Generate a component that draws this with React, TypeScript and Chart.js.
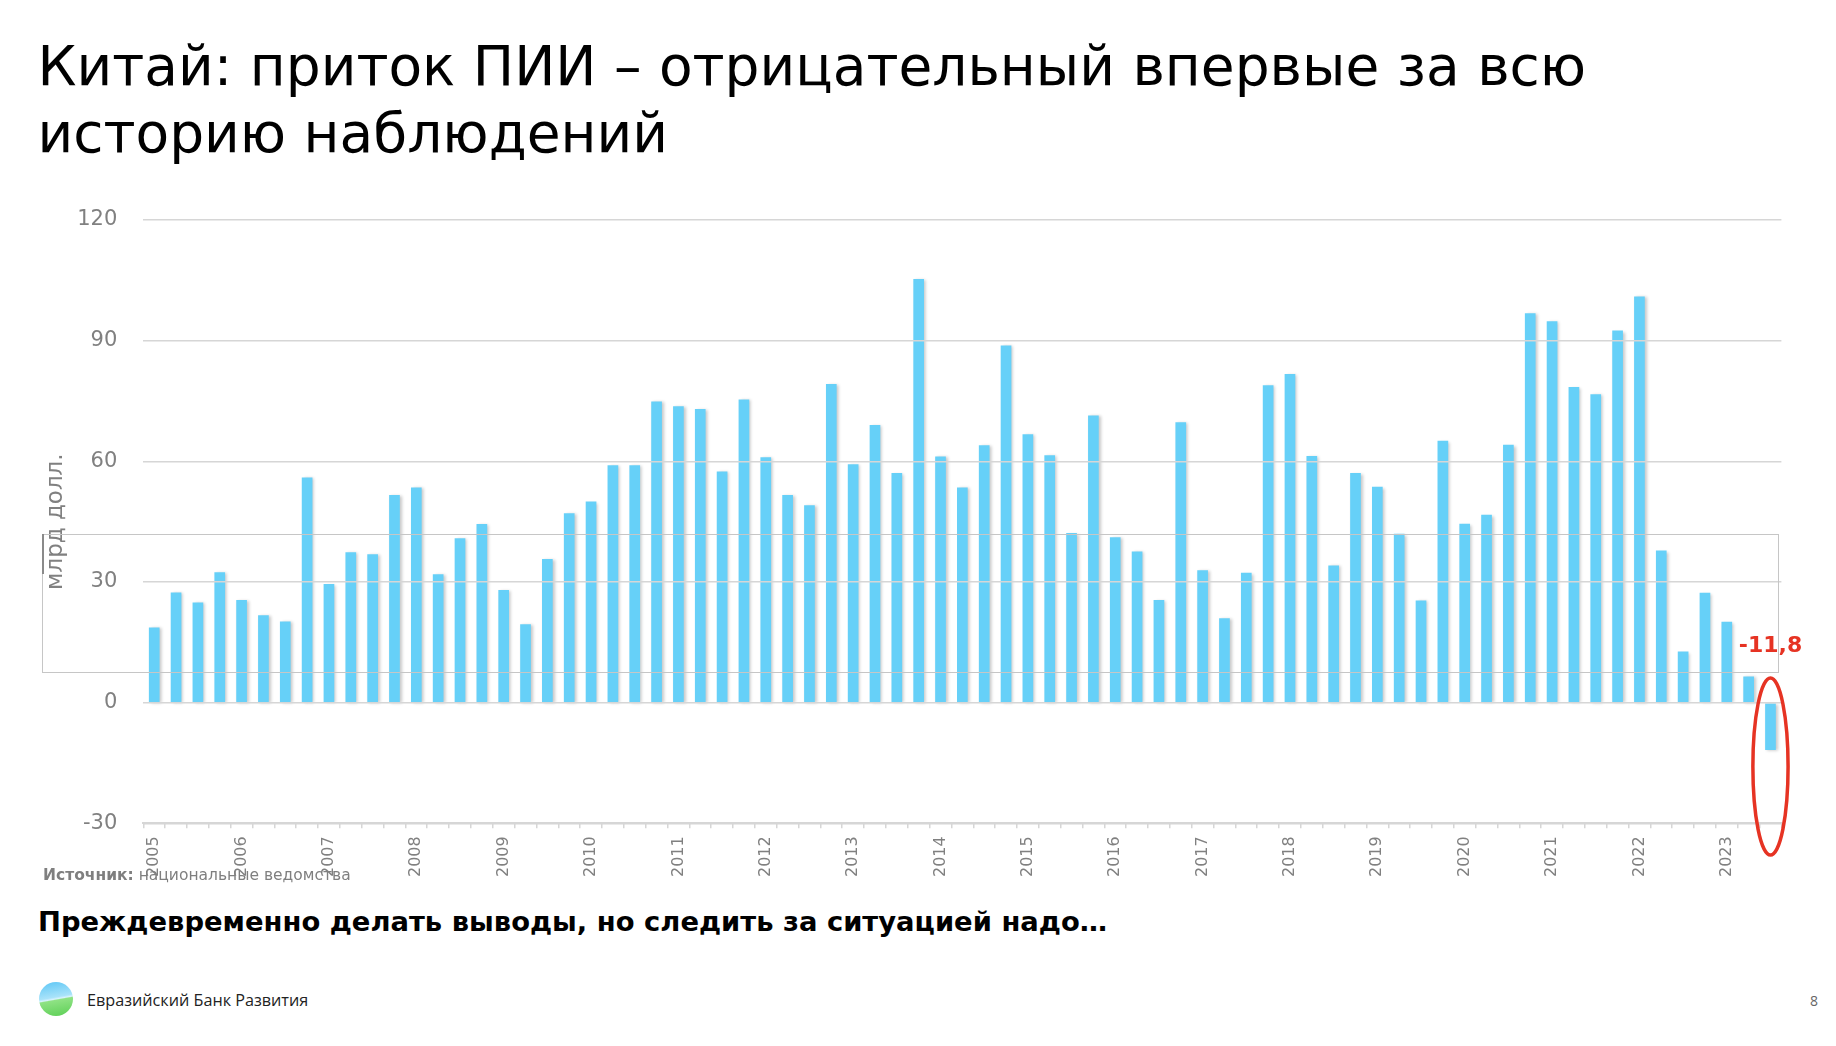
import React, { useEffect, useRef } from 'react';
import { Chart, registerables } from 'chart.js';

Chart.register(...registerables);

// ---- data -------------------------------------------------------------
const years = [
  '2005', '2006', '2007', '2008', '2009', '2010', '2011', '2012', '2013', '2014',
  '2015', '2016', '2017', '2018', '2019', '2020', '2021', '2022', '2023',
];
const quarters = ['Q1', 'Q2', 'Q3', 'Q4'];

// China: FDI inflow, bn USD, quarterly 2005Q1 .. 2023Q3
const fdiInflow = [
  18.7, 27.4, 24.9, 32.4, // 2005
  25.5, 21.7, 20.2, 56.0, // 2006
  29.5, 37.4, 36.9, 51.6, // 2007
  53.5, 31.9, 40.9, 44.4, // 2008
  28.0, 19.5, 35.7, 47.1, // 2009
  50.0, 59.0, 59.0, 74.9, // 2010
  73.7, 73.0, 57.5, 75.4, // 2011
  61.0, 51.6, 49.1, 79.2, // 2012
  59.3, 69.0, 57.1, 105.3, // 2013
  61.2, 53.5, 64.0, 88.8, // 2014
  66.7, 61.5, 42.2, 71.4, // 2015
  41.1, 37.6, 25.5, 69.7, // 2016
  32.9, 21.0, 32.3, 78.9, // 2017
  81.7, 61.3, 34.1, 57.1, // 2018
  53.7, 42.0, 25.4, 65.1, // 2019
  44.5, 46.7, 64.1, 96.8, // 2020
  94.8, 78.5, 76.7, 92.5, // 2021
  101.0, 37.8, 12.7, 27.3, // 2022
  20.1, 6.5, -11.8, // 2023
];

const yTickValues = [-30, 0, 30, 60, 90, 120];
const yAxisTitle = 'млрд долл.';

// callout on the last (negative) quarter, positions in data units
const calloutIndex = fdiInflow.length - 1;
const calloutLabelAt = 14.1;
const calloutEllipseTop = 6.1;
const calloutEllipseBottom = -37.9;

// category labels built from years/quarters
const periods: string[] = [];
years.forEach((y) => quarters.forEach((q) => periods.push(`${y} ${q}`)));
const categories = periods.slice(0, fdiInflow.length);

// ---- styles ------------------------------------------------------------
const BAR_COLOR = 'rgb(102, 208, 248)';
const GRID_COLOR = '#d6d6d6';
const AXIS_TEXT = '#808080';
const RED = '#e63323';
const FONT = '"DejaVu Sans", Verdana, sans-serif';

const barShadow = {
  id: 'barShadow',
  beforeDatasetsDraw(chart: any) {
    const c = chart.ctx;
    c.save();
    c.shadowColor = 'rgba(0,0,0,0.22)';
    c.shadowBlur = 3;
    c.shadowOffsetX = 2;
    c.shadowOffsetY = 1;
  },
  afterDatasetsDraw(chart: any) {
    chart.ctx.restore();
  },
};

const callout = {
  id: 'callout',
  afterDraw(chart: any) {
    const meta = chart.getDatasetMeta(0);
    const el = meta.data[calloutIndex];
    if (!el) return;
    const ys = chart.scales.y;
    const ctx = chart.ctx;
    const value = fdiInflow[calloutIndex];
    ctx.save();
    ctx.fillStyle = RED;
    ctx.font = `bold 22px ${FONT}`;
    ctx.textAlign = 'center';
    ctx.textBaseline = 'middle';
    ctx.fillText(value.toFixed(1).replace('.', ','), el.x, ys.getPixelForValue(calloutLabelAt));
    const top = ys.getPixelForValue(calloutEllipseTop);
    const bottom = ys.getPixelForValue(calloutEllipseBottom);
    ctx.beginPath();
    ctx.ellipse(el.x, (top + bottom) / 2, 17.6, (bottom - top) / 2, 0, 0, Math.PI * 2);
    ctx.strokeStyle = RED;
    ctx.lineWidth = 3.5;
    ctx.stroke();
    ctx.restore();
  },
};

function FdiChart() {
  const ref = useRef<HTMLCanvasElement | null>(null);
  useEffect(() => {
    if (!ref.current) return;
    const chart = new Chart(ref.current, {
      type: 'bar',
      data: {
        labels: categories,
        datasets: [
          {
            data: fdiInflow,
            backgroundColor: BAR_COLOR,
            borderWidth: 0,
            categoryPercentage: 1,
            barPercentage: 0.49,
          },
        ],
      },
      options: {
        animation: false,
        responsive: false,
        devicePixelRatio: 1,
        layout: { padding: { top: 40, right: 54.6, left: 0, bottom: 0 } },
        plugins: {
          legend: { display: false },
          tooltip: { enabled: false },
        },
        scales: {
          x: {
            type: 'category',
            grid: {
              display: true,
              drawOnChartArea: false,
              drawTicks: true,
              tickLength: 5,
              offset: true,
              color: GRID_COLOR,
              lineWidth: 1.5,
            },
            border: { display: true, color: GRID_COLOR, width: 2 },
            ticks: {
              autoSkip: false,
              minRotation: 90,
              maxRotation: 90,
              padding: 8,
              color: AXIS_TEXT,
              font: { family: FONT, size: 16 },
              callback: (_v: any, i: number) => (i % 4 === 0 ? categories[i].slice(0, 4) : ''),
            },
            afterFit: (s: any) => {
              s.height = 76.7;
            },
          },
          y: {
            min: -30,
            max: 120,
            afterBuildTicks: (s: any) => {
              s.ticks = yTickValues.map((v) => ({ value: v }));
            },
            grid: {
              color: GRID_COLOR,
              lineWidth: 1.5,
              drawTicks: false,
              z: 1,
            },
            border: { display: false },
            ticks: {
              padding: 26,
              color: AXIS_TEXT,
              font: { family: FONT, size: 21 },
              callback: (v: any) => String(v),
            },
            title: {
              display: true,
              text: yAxisTitle,
              color: AXIS_TEXT,
              font: { family: FONT, size: 23 },
              padding: { top: 42, bottom: 0 },
            },
            afterFit: (s: any) => {
              s.width = 143.3;
            },
          },
        },
      },
      plugins: [barShadow, callout],
    } as any);
    return () => chart.destroy();
  }, []);
  return (
    <canvas
      ref={ref}
      width={1836}
      height={720}
      style={{ position: 'absolute', left: 0, top: 180, width: 1836, height: 720 }}
    />
  );
}

export default function App() {
  return (
    <div
      style={{
        position: 'absolute',
        left: 0,
        top: 0,
        width: 1836,
        height: 1046,
        background: '#fff',
        overflow: 'hidden',
        fontFamily: FONT,
      }}
    >
      <div
        style={{
          position: 'absolute',
          left: 37.5,
          top: 33,
          fontSize: 55,
          lineHeight: '67px',
          color: '#000',
          whiteSpace: 'nowrap',
        }}
      >
        Китай: приток ПИИ – отрицательный впервые за всю
        <br />
        историю наблюдений
      </div>

      <FdiChart />

      {/* slide placeholder frame */}
      <div
        style={{
          position: 'absolute',
          left: 42,
          top: 534,
          width: 1737,
          height: 139,
          border: '1.5px solid #c6c6c6',
          boxSizing: 'border-box',
          pointerEvents: 'none',
        }}
      />
      <div
        style={{
          position: 'absolute',
          left: 41.5,
          top: 534,
          width: 2,
          height: 40,
          background: '#8a8a8a',
        }}
      />

      <div
        style={{
          position: 'absolute',
          left: 43,
          top: 865,
          fontSize: 15.5,
          lineHeight: '20px',
          color: '#7f7f7f',
          whiteSpace: 'nowrap',
        }}
      >
        <b>Источник:</b> национальные ведомства
      </div>

      <div
        style={{
          position: 'absolute',
          left: 38,
          top: 906,
          fontSize: 27.4,
          lineHeight: '32px',
          fontWeight: 'bold',
          color: '#000',
          whiteSpace: 'nowrap',
        }}
      >
        Преждевременно делать выводы, но следить за ситуацией надо…
      </div>

      <div
        style={{
          position: 'absolute',
          left: 39,
          top: 982,
          width: 34,
          height: 34,
          borderRadius: '50%',
          background:
            'linear-gradient(170deg, #5cc6f5 0%, #a9e3fa 45%, #d9f3fd 50%, #8fe284 53%, #5ccf55 100%)',
        }}
      />
      <div
        style={{
          position: 'absolute',
          left: 87,
          top: 990,
          fontFamily: '"Open Sans", sans-serif',
          fontSize: 16.2,
          lineHeight: '20px',
          color: '#222',
          whiteSpace: 'nowrap',
        }}
      >
        Евразийский Банк Развития
      </div>

      <div
        style={{
          position: 'absolute',
          left: 1810,
          top: 992,
          fontFamily: '"Open Sans", sans-serif',
          fontSize: 14,
          lineHeight: '18px',
          color: '#666',
        }}
      >
        8
      </div>
    </div>
  );
}
